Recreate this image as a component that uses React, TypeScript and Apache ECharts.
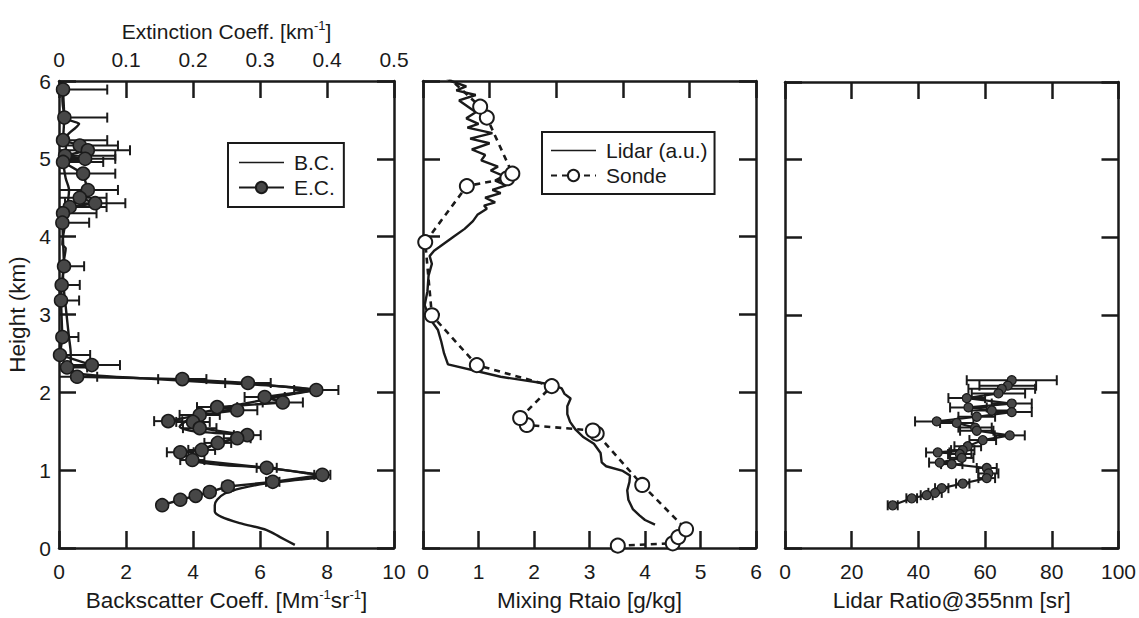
import React, { useEffect, useRef } from "react";
import * as echarts from "echarts";

// ---------- Panel 1: Backscatter coefficient (B.C.) and extinction coefficient (E.C.) ----------
const bcHeight = [0.04, 0.14, 0.23, 0.32, 0.40, 0.47, 0.55, 0.62, 0.70, 0.77, 0.83, 0.88, 0.92, 0.96, 1.03, 1.07, 1.11, 1.16, 1.22, 1.28, 1.34, 1.40, 1.45, 1.48, 1.51, 1.56, 1.62, 1.68, 1.74, 1.80, 1.86, 1.92, 1.98, 2.03, 2.08, 2.13, 2.18, 2.22, 2.26, 2.35, 2.5, 2.7, 2.9, 3.1, 3.3, 3.5, 3.7, 3.85, 3.9, 4.0, 4.2, 4.4, 4.6, 4.75, 4.9, 5.1, 5.3, 5.4, 5.45, 5.5, 5.6, 5.8, 6.0];
const bcValue = [7.04, 6.6, 6.2, 5.4, 4.85, 4.65, 4.65, 4.72, 4.95, 5.45, 6.2, 7.2, 7.9, 7.4, 6.2, 4.8, 4.1, 4.0, 4.15, 4.4, 4.7, 5.2, 5.5, 4.6, 3.9, 3.6, 3.75, 4.0, 4.3, 4.9, 5.6, 6.3, 7.0, 7.6, 6.5, 4.5, 2.5, 1.0, 0.45, 0.35, 0.35, 0.3, 0.25, 0.2, 0.15, 0.12, 0.15, 0.2, 0.1, 0.12, 0.2, 0.25, 0.3, 0.2, 0.15, 0.2, 0.25, 0.5, 0.6, 0.3, 0.15, 0.1, 0.1];

const ecHeight = [5.89, 5.53, 5.24, 5.17, 5.11, 5.04, 5.00, 4.96, 4.81, 4.60, 4.50, 4.43, 4.38, 4.30, 4.18, 3.62, 3.38, 3.18, 2.71, 2.48, 2.35, 2.32, 2.20, 2.17, 2.12, 2.03, 1.94, 1.87, 1.81, 1.77, 1.71, 1.63, 1.62, 1.54, 1.45, 1.41, 1.35, 1.26, 1.23, 1.13, 1.03, 0.94, 0.85, 0.79, 0.72, 0.67, 0.62, 0.55];
const ecValue = [0.006, 0.008, 0.006, 0.031, 0.043, 0.009, 0.039, 0.006, 0.036, 0.043, 0.031, 0.054, 0.016, 0.006, 0.005, 0.0075, 0.004, 0.003, 0.005, 0.0015, 0.049, 0.012, 0.027, 0.184, 0.282, 0.384, 0.307, 0.334, 0.236, 0.266, 0.210, 0.163, 0.200, 0.210, 0.281, 0.266, 0.237, 0.213, 0.181, 0.199, 0.310, 0.393, 0.319, 0.252, 0.225, 0.204, 0.181, 0.154];
const ecError = [0.066, 0.064, 0.066, 0.057, 0.063, 0.075, 0.045, 0.06, 0.048, 0.045, 0.04, 0.045, 0.055, 0.05, 0.04, 0.03, 0.027, 0.027, 0.024, 0.045, 0.042, 0.03, 0.03, 0.036, 0.034, 0.033, 0.03, 0.03, 0.03, 0.03, 0.03, 0.021, 0.025, 0.025, 0.02, 0.02, 0.02, 0.02, 0.02, 0.018, 0.015, 0.012, 0.01, 0.008, 0.007, 0.006, 0.005, 0.005];

// ---------- Panel 2: Mixing ratio ----------
const lidarMrHeight = [0.30, 0.36, 0.42, 0.5, 0.62, 0.74, 0.85, 0.93, 0.99, 1.05, 1.1, 1.22, 1.34, 1.43, 1.52, 1.62, 1.72, 1.82, 1.92, 1.98, 2.05, 2.1, 2.2, 2.36, 2.5, 2.65, 2.8, 2.95, 3.12, 3.3, 3.5, 3.65, 3.75, 3.82, 3.87, 4.0, 4.1, 4.2, 4.28, 4.36, 4.4, 4.44, 4.5, 4.56, 4.6, 4.66, 4.72, 4.78, 4.85, 4.9, 4.98, 5.05, 5.12, 5.2, 5.26, 5.33, 5.4, 5.45, 5.52, 5.6, 5.65, 5.75, 5.82, 5.88, 5.93, 6.0, 6.05];
const lidarMrValue = [4.18, 4.0, 3.9, 3.78, 3.7, 3.68, 3.72, 3.73, 3.6, 3.3, 3.22, 3.2, 3.08, 2.88, 2.75, 2.65, 2.6, 2.6, 2.66, 2.55, 2.5, 2.32, 1.4, 0.45, 0.38, 0.33, 0.27, 0.12, 0.03, 0.08, 0.1, 0.16, 0.12, 0.2, 0.3, 0.55, 0.75, 0.9, 0.98, 1.15, 1.1, 1.3, 1.12, 1.4, 1.25, 1.5, 1.3, 1.45, 1.22, 1.35, 1.05, 1.12, 0.88, 1.2, 0.85, 1.25, 0.8, 1.0, 0.78, 0.95, 0.85, 0.65, 0.95, 0.6, 0.78, 0.5, 0.4];

const sondeHeight = [0.03, 0.06, 0.14, 0.24, 0.81, 1.47, 1.51, 1.58, 1.67, 2.08, 2.35, 2.99, 3.93, 4.65, 4.75, 4.81, 5.53, 5.67, 6.15];
const sondeValue = [3.51, 4.5, 4.6, 4.74, 3.95, 3.13, 3.06, 1.87, 1.75, 2.32, 0.97, 0.16, 0.04, 0.79, 1.52, 1.61, 1.15, 1.03, 0.3];

// ---------- Panel 3: Lidar ratio ----------
const lrHeight = [2.16, 2.09, 2.05, 1.99, 1.93, 1.86, 1.81, 1.77, 1.75, 1.69, 1.63, 1.61, 1.55, 1.51, 1.45, 1.39, 1.31, 1.26, 1.23, 1.21, 1.16, 1.10, 1.08, 1.03, 0.96, 0.90, 0.83, 0.77, 0.71, 0.68, 0.64, 0.55];
const lrValue = [68, 66.8, 65, 64, 54.5, 68, 55, 62, 68, 57.5, 45.5, 51.5, 57, 57.5, 67.4, 59.3, 54.8, 53.3, 45.8, 52.4, 53, 46.4, 50, 60.5, 61, 60.5, 53.3, 47, 45, 42.5, 38, 32.3];
const lrError = [13.5, 8.5, 10, 8, 5.5, 6, 5.5, 6, 6, 5.5, 6.5, 5, 5, 5, 4.5, 4, 4, 3.5, 3.5, 3.5, 3.5, 3.2, 3.2, 3, 3, 2.5, 2, 2, 2, 1.8, 1.6, 1.5];

// ---------- Axis scales ----------
const heightTicks = { min: 0, max: 6, interval: 1 };
const bscTicks = { min: 0, max: 10, interval: 2 };
const extTicks = { min: 0, max: 0.5, interval: 0.1 };
const mrTicks = { min: 0, max: 6, interval: 1 };
const mrTopTicks = { min: 0, max: 5, interval: 1 };
const lrTicks = { min: 0, max: 100, interval: 20 };

const FONT = "'Liberation Sans', Arial, sans-serif";
const INK = "#1a1a1a";
const LABEL_SIZE = 21;
const NAME_SIZE = 21;
const BOTTOM_NAME_SIZE = 22.5;
// a thin horizontal band centered in a 45x14 box, used as a plain-line legend icon
const LINE_ICON = "path://M0,0L0.01,0L0.01,0.01Z M0,6.2L45,6.2L45,7.8L0,7.8Z M0,13.99L0.01,13.99L0.01,14Z";

const pairs = (xs: number[], ys: number[]) => xs.map((x, i) => [x, ys[i]]);
const triples = (xs: number[], ys: number[], es: number[]) => xs.map((x, i) => [x, ys[i], es[i]]);

function errorBars(params: any, api: any) {
  const x = api.value(0);
  const y = api.value(1);
  const e = api.value(2);
  const p1 = api.coord([x - e, y]);
  const p2 = api.coord([x + e, y]);
  const cap = 5;
  const st = { stroke: INK, lineWidth: 2 };
  return {
    type: "group",
    children: [
      { type: "line", shape: { x1: p1[0], y1: p1[1], x2: p2[0], y2: p2[1] }, style: st },
      { type: "line", shape: { x1: p1[0], y1: p1[1] - cap, x2: p1[0], y2: p1[1] + cap }, style: st },
      { type: "line", shape: { x1: p2[0], y1: p2[1] - cap, x2: p2[0], y2: p2[1] + cap }, style: st },
    ],
  };
}

const supRich = {
  s: { fontSize: 13, fontFamily: FONT, color: INK, verticalAlign: "top", lineHeight: 13 },
};

function frameAxis(extra: any) {
  return {
    type: "value",
    axisLine: { show: true, onZero: false, lineStyle: { color: INK, width: 2.5 } },
    axisTick: { show: true, inside: true, length: 17, lineStyle: { color: INK, width: 2.5 } },
    splitLine: { show: false },
    axisLabel: { show: false },
    ...extra,
  };
}

const tickLabel = (margin: number) => ({
  show: true,
  margin,
  color: INK,
  fontSize: LABEL_SIZE,
  fontFamily: FONT,
});

const nameStyle = { color: INK, fontSize: NAME_SIZE, fontFamily: FONT, lineHeight: 24, rich: supRich };
const bottomNameStyle = { ...nameStyle, fontSize: BOTTOM_NAME_SIZE, lineHeight: 25 };
const legendText = { color: INK, fontSize: NAME_SIZE, fontFamily: FONT, padding: [0, 0, 0, 5] };

export default function App() {
  const ref = useRef<HTMLDivElement>(null);

  useEffect(() => {
    if (!ref.current) return;
    const chart = echarts.init(ref.current, undefined, { renderer: "svg" });

    const grids = [
      { left: 59, top: 81, width: 335, height: 467 },
      { left: 423, top: 81, width: 333, height: 467 },
      { left: 785, top: 82, width: 334, height: 466 },
    ];

    const option: any = {
      animation: false,
      backgroundColor: "#ffffff",
      textStyle: { fontFamily: FONT },
      grid: grids.map((g) => ({ ...g, containLabel: false })),
      xAxis: [
        frameAxis({
          gridIndex: 0, position: "bottom", ...bscTicks,
          axisLabel: tickLabel(13),
          name: "Backscatter Coeff. [Mm{s|-1}sr{s|-1}]",
          nameLocation: "middle", nameGap: 40, nameTextStyle: bottomNameStyle,
        }),
        frameAxis({
          gridIndex: 0, position: "top", ...extTicks,
          axisLabel: tickLabel(11),
          name: "Extinction Coeff. [km{s|-1}]",
          nameLocation: "middle", nameGap: 38, nameTextStyle: nameStyle,
        }),
        frameAxis({
          gridIndex: 1, position: "bottom", ...mrTicks,
          axisLabel: tickLabel(13),
          name: "Mixing Rtaio [g/kg]",
          nameLocation: "middle", nameGap: 40, nameTextStyle: bottomNameStyle,
        }),
        frameAxis({ gridIndex: 1, position: "top", ...mrTopTicks }),
        frameAxis({
          gridIndex: 2, position: "bottom", ...lrTicks,
          axisLabel: tickLabel(13),
          name: "Lidar Ratio@355nm [sr]",
          nameLocation: "middle", nameGap: 40, nameTextStyle: bottomNameStyle,
        }),
        frameAxis({ gridIndex: 2, position: "top", ...lrTicks }),
      ],
      yAxis: [
        frameAxis({
          gridIndex: 0, position: "left", ...heightTicks,
          axisLabel: tickLabel(8),
          name: "Height (km)",
          nameLocation: "middle", nameGap: 29, nameTextStyle: bottomNameStyle,
        }),
        frameAxis({ gridIndex: 0, position: "right", ...heightTicks }),
        frameAxis({ gridIndex: 1, position: "left", ...heightTicks }),
        frameAxis({ gridIndex: 1, position: "right", ...heightTicks }),
        frameAxis({ gridIndex: 2, position: "left", ...heightTicks }),
        frameAxis({ gridIndex: 2, position: "right", ...heightTicks }),
      ],
      legend: [
        {
          data: [{ name: "B.C.", icon: LINE_ICON }, { name: "E.C." }],
          orient: "vertical",
          left: 228, top: 143,
          itemWidth: 45, itemHeight: 14, itemGap: 4,
          padding: [9, 9, 9, 10],
          borderColor: INK, borderWidth: 2,
          textStyle: legendText,
        },
        {
          data: [{ name: "Lidar (a.u.)", icon: LINE_ICON }, { name: "Sonde" }],
          orient: "vertical",
          left: 542, top: 132,
          itemWidth: 45, itemHeight: 14, itemGap: 4,
          padding: [8, 7, 8, 8],
          borderColor: INK, borderWidth: 2,
          textStyle: legendText,
        },
      ],
      series: [
        {
          name: "B.C.", type: "line", xAxisIndex: 0, yAxisIndex: 0,
          data: pairs(bcValue, bcHeight), symbol: "none", smooth: 0.3,
          lineStyle: { color: INK, width: 2.4 }, itemStyle: { color: INK }, z: 3,
        },
        {
          name: "ecErr", type: "custom", xAxisIndex: 1, yAxisIndex: 0,
          data: triples(ecValue, ecHeight, ecError), renderItem: errorBars,
          encode: { x: 0, y: 1 }, clip: true, z: 2,
        },
        {
          name: "E.C.", type: "line", xAxisIndex: 1, yAxisIndex: 0,
          data: pairs(ecValue, ecHeight), symbol: "circle", symbolSize: 13,
          lineStyle: { color: INK, width: 2.4 },
          itemStyle: { color: "#474747", borderColor: INK, borderWidth: 1.5 }, z: 4,
        },
        {
          name: "Lidar (a.u.)", type: "line", xAxisIndex: 2, yAxisIndex: 2,
          data: pairs(lidarMrValue, lidarMrHeight), symbol: "none",
          lineStyle: { color: INK, width: 2.4 }, itemStyle: { color: INK }, z: 3,
        },
        {
          name: "Sonde", type: "line", xAxisIndex: 2, yAxisIndex: 2,
          data: pairs(sondeValue, sondeHeight), symbol: "circle", symbolSize: 14,
          lineStyle: { color: INK, width: 2.6, type: [6, 5] },
          itemStyle: { color: "#ffffff", borderColor: INK, borderWidth: 2 }, z: 4,
        },
        {
          name: "lrErr", type: "custom", xAxisIndex: 4, yAxisIndex: 4,
          data: triples(lrValue, lrHeight, lrError), renderItem: errorBars,
          encode: { x: 0, y: 1 }, clip: true, z: 2,
        },
        {
          name: "Lidar Ratio", type: "line", xAxisIndex: 4, yAxisIndex: 4,
          data: pairs(lrValue, lrHeight), symbol: "circle", symbolSize: 9,
          lineStyle: { color: INK, width: 2.2 },
          itemStyle: { color: "#474747", borderColor: INK, borderWidth: 1.2 }, z: 4,
        },
      ],
    };

    chart.setOption(option);
    return () => chart.dispose();
  }, []);

  return (
    <div
      ref={ref}
      style={{ position: "fixed", left: 0, top: 0, width: 1139, height: 618, background: "#fff" }}
    />
  );
}
